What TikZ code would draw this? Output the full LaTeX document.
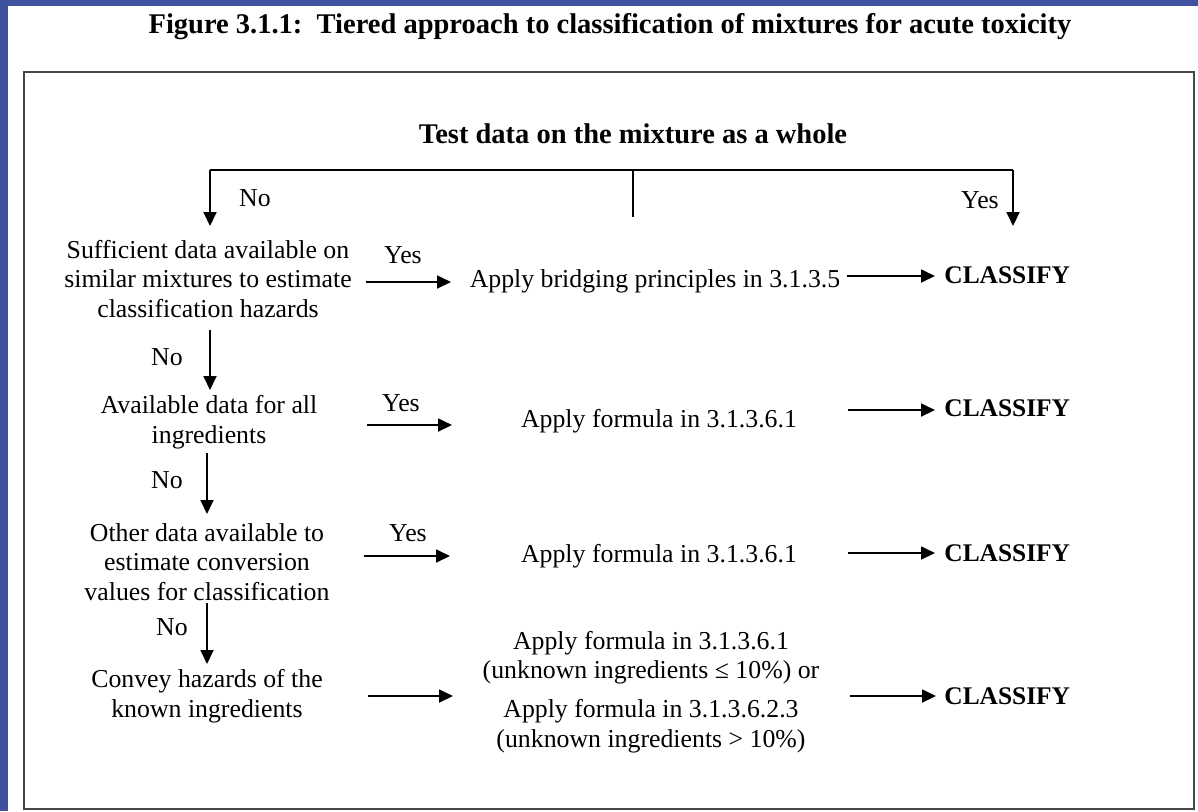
\documentclass[tikz,border=0pt]{standalone}
\usepackage{fontspec}
\setmainfont{Liberation Serif}
\usetikzlibrary{arrows.meta}
\definecolor{slideblue}{RGB}{62,82,160}
\definecolor{framegray}{RGB}{70,70,70}
\begin{document}
\begin{tikzpicture}[x=0.5pt,y=-0.5pt,
  txt/.style={font=\fontsize{12.9pt}{14.75pt}\selectfont, inner sep=0pt, align=center},
  head/.style={font=\fontsize{14.25pt}{17pt}\selectfont\bfseries, inner sep=0pt, anchor=base},
  cls/.style={font=\fontsize{12.7pt}{14.75pt}\selectfont\bfseries, inner sep=0pt, anchor=west},
  lbl/.style={font=\fontsize{12.9pt}{14.75pt}\selectfont, inner sep=0pt},
  arr/.style={line width=0.9pt, -{Triangle[length=7pt,width=6.5pt]}},
  ln/.style={line width=0.9pt}]
\useasboundingbox (0,0) rectangle (1198,811);
\fill[slideblue] (0,0) rectangle (1198,811);
\fill[white] (8,6) rectangle (1198,811);
\draw[framegray, line width=1pt] (24,72) rectangle (1194,809);

% titles
\node[head] (title) at (610,33) {Figure 3.1.1:\ \ Tiered approach to classification of mixtures for acute toxicity};
\node[head] (test) at (633,143) {Test data on the mixture as a whole};

% top branch
\coordinate (stem) at (633,217);
\coordinate (split) at (633,170);
\coordinate (lc) at (210,170);
\coordinate (rc) at (1013,170);
\coordinate (ltip) at (210,226);
\coordinate (rtip) at (1013,226);
\draw[ln] (stem) -- (split);
\draw[ln] (lc) -- (rc);
\draw[arr] (lc) -- (ltip);
\draw[arr] (rc) -- (rtip);
\node[lbl] (no0) at (255,198) {No};
\node[lbl] (yes0) at (980,200) {Yes};

% left column questions
\node[txt] (q1) at (208,279) {Sufficient data available on\\similar mixtures to estimate\\classification hazards};
\node[txt] (q2) at (209,422) {Available data for all\\ingredients};
\node[txt] (q3) at (207,562) {Other data available to\\estimate conversion\\values for classification};
\node[txt] (q4) at (207,696) {Convey hazards of the\\known ingredients};

% middle actions
\node[txt] (a1) at (655,281) {Apply bridging principles in 3.1.3.5};
\node[txt] (a2) at (659,421) {Apply formula in 3.1.3.6.1};
\node[txt] (a3) at (659,556) {Apply formula in 3.1.3.6.1};
\node[txt] (a4) at (651,692) {Apply formula in 3.1.3.6.1\\(unknown ingredients ≤ 10\%) or\\[4.75pt]Apply formula in 3.1.3.6.2.3\\(unknown ingredients > 10\%)};

% classify
\node[cls] (c1) at (944,275) {CLASSIFY};
\node[cls] (c2) at (944,408) {CLASSIFY};
\node[cls] (c3) at (944,553) {CLASSIFY};
\node[cls] (c4) at (944,696) {CLASSIFY};

% vertical No arrows
\coordinate (v1s) at (210,330); \coordinate (v1e) at (210,390);
\coordinate (v2s) at (207,453); \coordinate (v2e) at (207,514);
\coordinate (v3s) at (207,603); \coordinate (v3e) at (207,664);
\draw[arr] (v1s) -- (v1e);
\draw[arr] (v2s) -- (v2e);
\draw[arr] (v3s) -- (v3e);
\node[lbl] (no1) at (167,357) {No};
\node[lbl] (no2) at (167,480) {No};
\node[lbl] (no3) at (172,627) {No};

% horizontal Yes arrows
\coordinate (h1s) at (366,282); \coordinate (h1e) at (451,282);
\coordinate (h2s) at (367,425); \coordinate (h2e) at (452,425);
\coordinate (h3s) at (364,556); \coordinate (h3e) at (450,556);
\coordinate (h4s) at (368,696); \coordinate (h4e) at (453,696);
\draw[arr] (h1s) -- (h1e);
\draw[arr] (h2s) -- (h2e);
\draw[arr] (h3s) -- (h3e);
\draw[arr] (h4s) -- (h4e);
\node[lbl] (yes1) at (403,255) {Yes};
\node[lbl] (yes2) at (401,403) {Yes};
\node[lbl] (yes3) at (408,533) {Yes};

% arrows to classify
\coordinate (r1s) at (847,276); \coordinate (r1e) at (935,276);
\coordinate (r2s) at (848,410); \coordinate (r2e) at (935,410);
\coordinate (r3s) at (848,553); \coordinate (r3e) at (935,553);
\coordinate (r4s) at (850,696); \coordinate (r4e) at (936,696);
\draw[arr] (r1s) -- (r1e);
\draw[arr] (r2s) -- (r2e);
\draw[arr] (r3s) -- (r3e);
\draw[arr] (r4s) -- (r4e);
\end{tikzpicture}
\end{document}
